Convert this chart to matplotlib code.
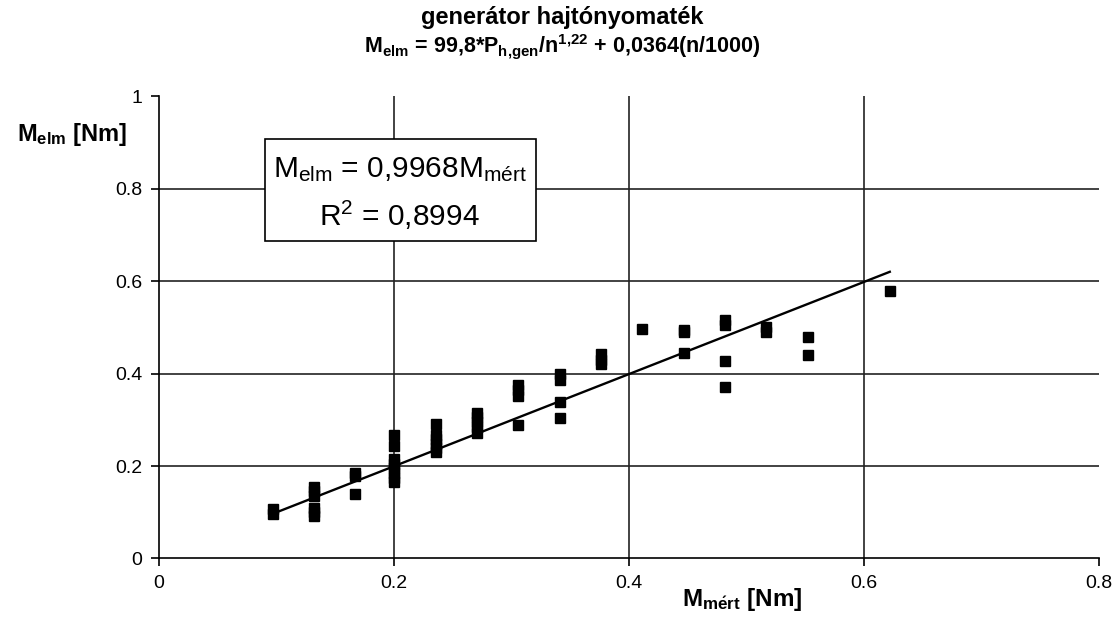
import numpy as np
import matplotlib
matplotlib.use("Agg")
import matplotlib.pyplot as plt
from matplotlib.patches import Rectangle

plt.rcParams['font.family'] = ['Liberation Sans', 'DejaVu Sans']
plt.rcParams['mathtext.fontset'] = 'custom'
plt.rcParams['mathtext.rm'] = 'Liberation Sans'
plt.rcParams['mathtext.it'] = 'Liberation Sans:italic'
plt.rcParams['mathtext.bf'] = 'Liberation Sans:bold'

m_mert = [0.097, 0.097,
          0.132, 0.132, 0.132, 0.132, 0.132, 0.132,
          0.167, 0.167, 0.167,
          0.2, 0.2, 0.2, 0.2, 0.2, 0.2, 0.2, 0.2,
          0.236, 0.236, 0.236, 0.236, 0.236, 0.236,
          0.271, 0.271, 0.271, 0.271, 0.271,
          0.306, 0.306, 0.306, 0.306,
          0.341, 0.341, 0.341, 0.341,
          0.376, 0.376, 0.376,
          0.411,
          0.447, 0.447, 0.447,
          0.482, 0.482, 0.482, 0.482,
          0.517, 0.517,
          0.552, 0.552,
          0.622]
m_elm = [0.097, 0.108,
         0.155, 0.145, 0.135, 0.11, 0.1, 0.092,
         0.184, 0.178, 0.139,
         0.266, 0.243, 0.215, 0.205, 0.195, 0.185, 0.175, 0.165,
         0.29, 0.268, 0.258, 0.248, 0.238, 0.23,
         0.315, 0.305, 0.295, 0.285, 0.272,
         0.375, 0.365, 0.352, 0.288,
         0.4, 0.385, 0.339, 0.303,
         0.443, 0.43, 0.42,
         0.497,
         0.495, 0.489, 0.444,
         0.515, 0.505, 0.427, 0.37,
         0.5, 0.49,
         0.479, 0.44,
         0.578]

slope = 0.9968
fit_x = [min(m_mert), max(m_mert)]

x_ticks = [0, 0.2, 0.4, 0.6, 0.8]
x_labels = ['0', '0.2', '0.4', '0.6', '0.8']
y_ticks = [0, 0.2, 0.4, 0.6, 0.8, 1]
y_labels = ['0', '0.2', '0.4', '0.6', '0.8', '1']

fig = plt.figure(figsize=(11.18, 6.24), dpi=100)
ax = fig.add_axes([0.142, 0.105, 0.841, 0.741])

ax.plot(m_mert, m_elm, 's', color='black', markersize=6.5, zorder=3)
ax.plot(fit_x, [slope * v for v in fit_x], color='black', linewidth=1.7, zorder=4)

ax.set_xlim(0, 0.8)
ax.set_ylim(0, 1)
ax.set_xticks(x_ticks)
ax.set_xticklabels(x_labels)
ax.set_yticks(y_ticks)
ax.set_yticklabels(y_labels)
ax.tick_params(direction='out', length=6, width=1.2, labelsize=14, pad=6)

for v in x_ticks[1:-1]:
    ax.axvline(v, color='#222222', linewidth=1.2, zorder=1)
for v in y_ticks[1:-1]:
    ax.axhline(v, color='#222222', linewidth=1.2, zorder=1)

ax.spines['top'].set_visible(False)
ax.spines['right'].set_visible(False)
ax.spines['left'].set_linewidth(1.2)
ax.spines['bottom'].set_linewidth(1.2)

fig.text(0.503, 0.972, 'generátor hajtónyomaték', ha='center', va='center',
         fontsize=17, fontweight='bold')
fig.text(0.503, 0.925,
         r'$\mathbf{M_{elm}}$ = 99,8*$\mathbf{P_{h{,}gen}}$/$\mathbf{n^{1{,}22}}$ + 0,0364(n/1000)',
         ha='center', va='center', fontsize=15.5, fontweight='bold')

fig.text(0.064, 0.785, r'$\mathbf{M_{elm}}$ [Nm]', ha='center', va='center',
         fontsize=17, fontweight='bold')
fig.text(0.664, 0.04, r'$\mathbf{M_{m\acute{e}rt}}$ [Nm]', ha='center', va='center',
         fontsize=17.5, fontweight='bold')

# equation box of the trend line
ax.add_patch(Rectangle((0.0902, 0.686), 0.2307, 0.2206, facecolor='white',
                       edgecolor='black', linewidth=1.2, zorder=5))
ax.text(0.205, 0.824, r'$\mathregular{M_{elm}}$ = 0,9968$\mathregular{M_{mért}}$',
        ha='center', va='baseline', fontsize=21.5, zorder=6)
ax.text(0.205, 0.7185, r'$\mathregular{R^2}$ = 0,8994',
        ha='center', va='baseline', fontsize=21.5, zorder=6)

fig.savefig('out.png', dpi=100)
